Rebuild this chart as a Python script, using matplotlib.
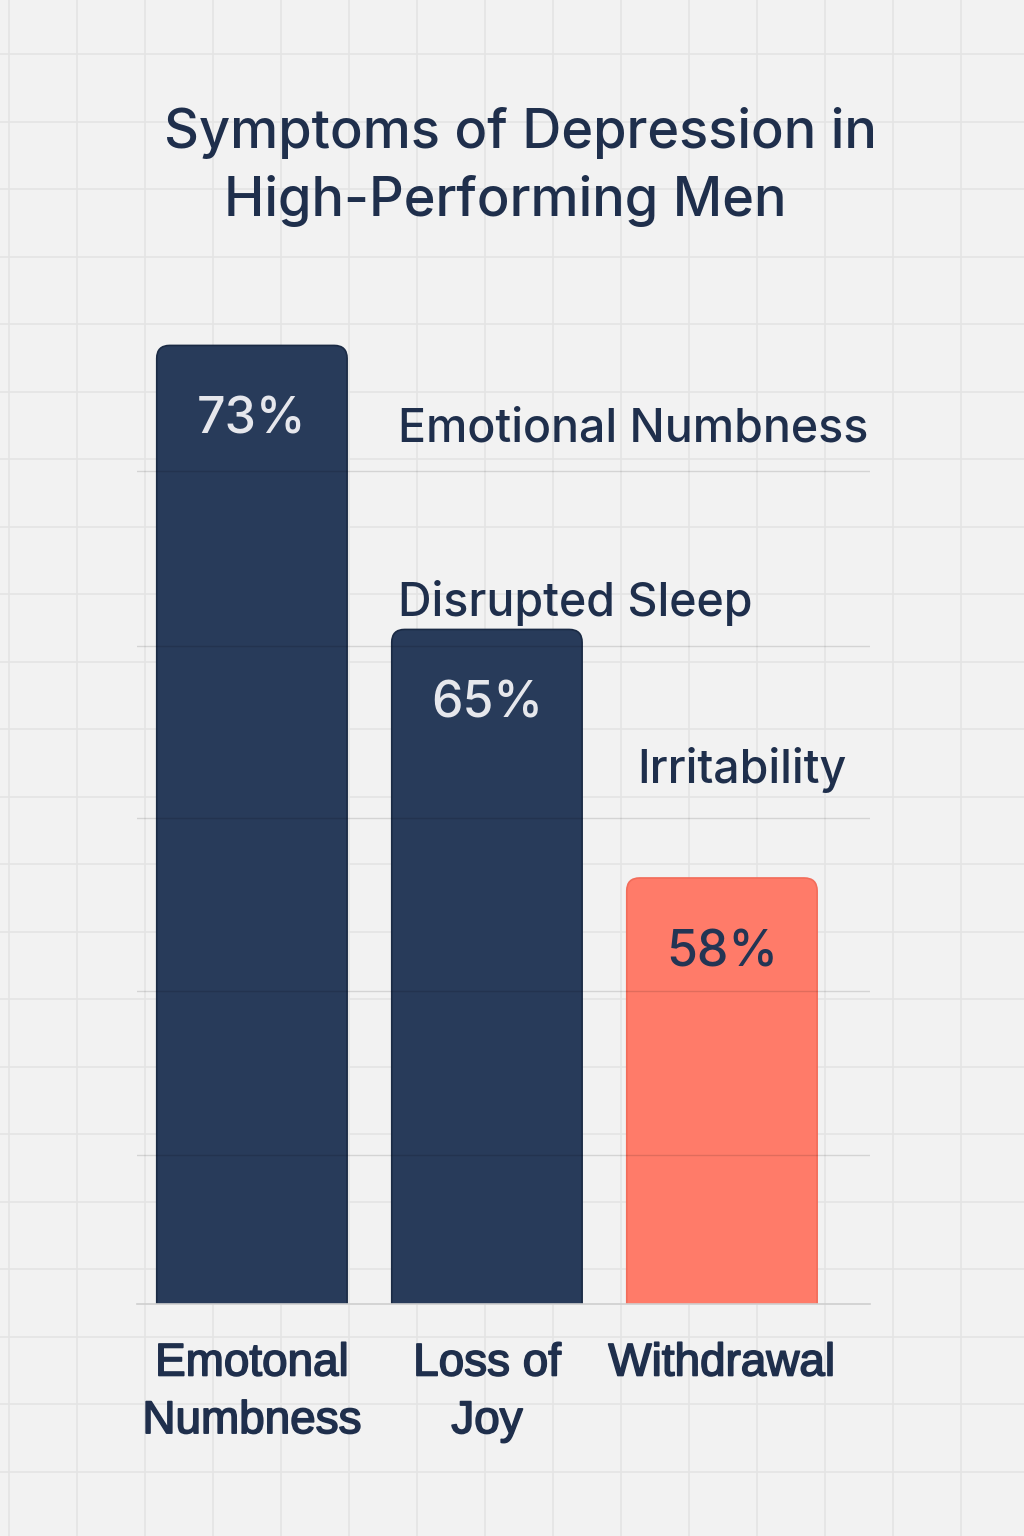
import matplotlib.pyplot as plt
import matplotlib.patheffects as pe
import numpy as np
from matplotlib.patches import FancyBboxPatch

# Data
categories = ["Emotonal\nNumbness", "Loss of\nJoy", "Withdrawal"]
values = [73, 65, 58]
value_labels = ["73%", "65%", "58%"]
side_labels = ["Emotional Numbness", "Disrupted Sleep", "Irritability"]
side_label_pos = [(0.62, 70.62), (0.62, 65.75), (1.64, 61.05)]

navy = "#283b5a"
coral = "#ff7b69"
text_navy = "#1f2f4c"
bar_colors = [navy, navy, coral]
edge_colors = ["#1a2a44", "#1a2a44", "#f26c5a"]
value_colors = ["#e6e7ec", "#e6e7ec", "#233554"]

fig = plt.figure(figsize=(10.24, 15.36), dpi=100)
fig.patch.set_facecolor("#f2f2f2")

# Faint graph-paper grid behind everything
bg = fig.add_axes([0, 0, 1, 1], zorder=-1)
bg.set_xlim(0, 1024)
bg.set_ylim(1536, 0)
bg.set_facecolor("#f2f2f2")
bg.set_xticks(np.arange(9, 1024, 68))
bg.set_yticks(np.arange(54, 1536, 67.5))
bg.grid(True, color="#e4e4e4", linewidth=1.2)
bg.tick_params(length=0, labelbottom=False, labelleft=False)
for s in bg.spines.values():
    s.set_visible(False)

# Main axes
ax = fig.add_axes([137 / 1024, 232 / 1536, 733 / 1024, 1004 / 1536])
ax.set_facecolor("none")
x = np.arange(len(values))
bars = ax.bar(x, values, width=0.81)
ax.set_xlim(-0.489, 2.63)
ax.set_ylim(46, 74.28)

# Swap plain bars for ones with rounded tops
for rect, fc, ec in zip(bars, bar_colors, edge_colors):
    bx, bw, bh = rect.get_x(), rect.get_width(), rect.get_height()
    rect.set_visible(False)
    patch = FancyBboxPatch((bx, 0), bw, bh,
                           boxstyle="round,pad=0,rounding_size=0.055",
                           mutation_aspect=6.62, facecolor=fc, edgecolor=ec,
                           linewidth=1.2, zorder=2)
    ax.add_patch(patch)

# Thin guide lines, slightly darker on the bars too
ax.set_yticks([50.2, 54.82, 59.69, 64.54, 69.46])
ax.yaxis.grid(True, color="black", linewidth=1, alpha=0.12, zorder=3)
ax.set_axisbelow(False)
ax.tick_params(axis="y", length=0, labelleft=False)
for side in ["top", "right", "left"]:
    ax.spines[side].set_visible(False)
ax.spines["bottom"].set_color("#cfcfcf")
ax.spines["bottom"].set_linewidth(1.2)

bold_fx = [pe.withStroke(linewidth=1.2, foreground=text_navy)]
ax.set_xticks(x)
ax.set_xticklabels(categories, fontsize=33, color=text_navy,
                   family="Liberation Sans", linespacing=1.4)
for t in ax.get_xticklabels():
    t.set_path_effects(bold_fx)
ax.tick_params(axis="x", length=0, pad=27)

# Percent labels inside bars
for xi, v, lab, c in zip(x, values, value_labels, value_colors):
    ax.annotate(lab, (xi, v), xytext=(0, -54), textcoords="offset points",
                ha="center", va="center", fontsize=36, color=c,
                family="Inter", fontweight="medium", zorder=4)

# Floating symptom labels
for lab, (lx, ly) in zip(side_labels, side_label_pos):
    ax.text(lx, ly, lab, ha="left", va="center", fontsize=33.5,
            color=text_navy, family="Inter", fontweight="medium", zorder=4)

fig.text(520 / 1024, 1 - 133 / 1536, "Symptoms of Depression in", ha="center",
         va="center", fontsize=39, color=text_navy, family="Inter",
         fontweight="medium")
fig.text(505 / 1024, 1 - 201 / 1536, "High-Performing Men", ha="center",
         va="center", fontsize=39, color=text_navy, family="Inter",
         fontweight="medium")

fig.savefig("out.png", dpi=100, facecolor=fig.get_facecolor())
